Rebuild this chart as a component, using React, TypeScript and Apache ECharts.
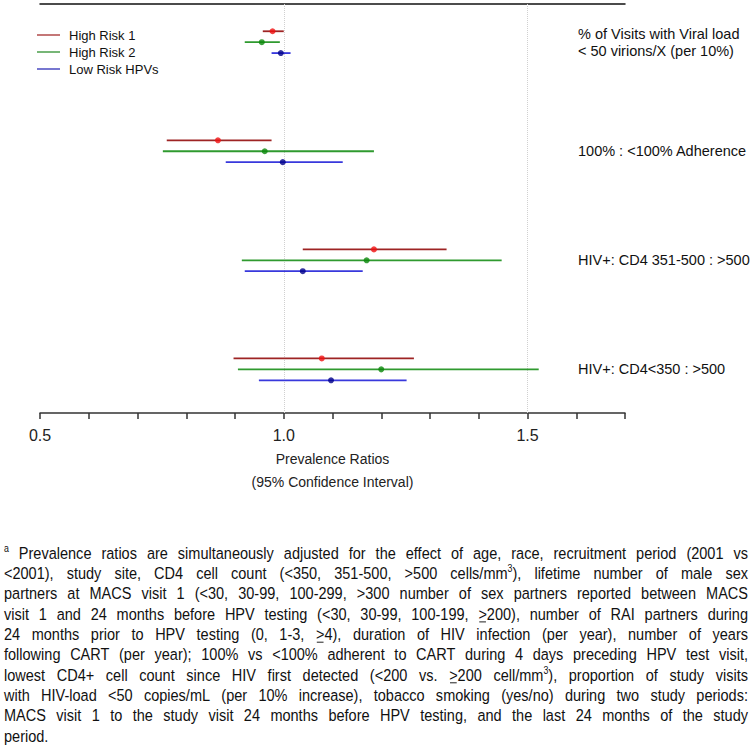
import React, { useEffect, useRef } from "react";
import * as echarts from "echarts";

// ---------- data ----------
const groupLabels = [
  "% of Visits with Viral load\n< 50 virions/X (per 10%)",
  "100% : <100% Adherence",
  "HIV+: CD4 351-500 : >500",
  "HIV+: CD4<350 : >500",
];
const seriesNames = ["High Risk 1", "High Risk 2", "Low Risk HPVs"];
const hr1Est = [0.977, 0.865, 1.185, 1.078];
const hr1Lo = [0.957, 0.76, 1.039, 0.897];
const hr1Hi = [1.0, 0.975, 1.334, 1.267];
const hr2Est = [0.955, 0.961, 1.17, 1.2];
const hr2Lo = [0.92, 0.752, 0.914, 0.906];
const hr2Hi = [0.992, 1.185, 1.447, 1.523];
const lrEst = [0.994, 0.998, 1.039, 1.097];
const lrLo = [0.975, 0.881, 0.92, 0.949];
const lrHi = [1.014, 1.121, 1.162, 1.252];
const xTickLabels = [0.5, 1.0, 1.5];
const refLines = [1.0, 1.5];
const axisTitle = "Prevalence Ratios\n(95% Confidence Interval)";

// ^x = superscript char, _x = underlined char
const footnoteLines = [
  "^a Prevalence ratios are simultaneously adjusted for the effect of age, race, recruitment period (2001 vs",
  "<2001), study site, CD4 cell count (<350, 351-500, >500 cells/mm^3), lifetime number of male sex",
  "partners at MACS visit 1 (<30, 30-99, 100-299, >300 number of sex partners reported between MACS",
  "visit 1 and 24 months before HPV testing (<30, 30-99, 100-199, _>200), number of RAI partners during",
  "24 months prior to HPV testing (0, 1-3, _>4), duration of HIV infection (per year), number of years",
  "following CART (per year); 100% vs <100% adherent to CART during 4 days preceding HPV test visit,",
  "lowest CD4+ cell count since HIV first detected (<200 vs. _>200 cell/mm^3), proportion of study visits",
  "with HIV-load <50 copies/mL (per 10% increase), tobacco smoking (yes/no) during two study periods:",
  "MACS visit 1 to the study visit 24 months before HPV testing, and the last 24 months of the study",
  "period.",
];

// ---------- styles ----------
const FONT = "'Liberation Sans', Arial, Helvetica, sans-serif";
const lineColors = ["#9E2424", "#2F9A2F", "#3838DC"];
const pointColors = ["#F01010", "#0A870A", "#000088"];
const legendColors = ["#B04A4A", "#4A9E4A", "#4A4AC0"];

const FN_SIZE = 16.5;
const FN_SCALE = 0.88;
const FN_LEFT = 4;
const FN_RIGHT = 748;
const FN_TOP = 553;
const FN_STEP = 20.3;

function parseSegments(word: string) {
  const segs: { t: string; k: "n" | "sup" | "u" }[] = [];
  let buf = "";
  for (let i = 0; i < word.length; i++) {
    const c = word[i];
    if ((c === "^" || c === "_") && i + 1 < word.length) {
      if (buf) segs.push({ t: buf, k: "n" });
      buf = "";
      segs.push({ t: word[i + 1], k: c === "^" ? "sup" : "u" });
      i++;
    } else buf += c;
  }
  if (buf) segs.push({ t: buf, k: "n" });
  return segs;
}

function buildFootnote(): any[] {
  const canvas = document.createElement("canvas");
  const ctx = canvas.getContext("2d")!;
  const measure = (t: string, size: number) => {
    ctx.font = `${size}px ${FONT}`;
    return ctx.measureText(t).width;
  };
  const supSize = 10;
  const spaceW = measure(" ", FN_SIZE);
  const localW = (FN_RIGHT - FN_LEFT) / FN_SCALE;
  const out: any[] = [];
  footnoteLines.forEach((line, li) => {
    const words = line.split(" ").map((w) => {
      const segs = parseSegments(w).map((s) => ({
        ...s,
        w: measure(s.t, s.k === "sup" ? supSize : FN_SIZE),
      }));
      return { segs, w: segs.reduce((a, s) => a + s.w, 0) };
    });
    const total = words.reduce((a, w) => a + w.w, 0);
    const last = li === footnoteLines.length - 1;
    let gap = last || words.length < 2 ? spaceW : (localW - total) / (words.length - 1);
    if (gap < spaceW * 0.5) gap = spaceW * 0.5;
    const children: any[] = [];
    let x = 0;
    words.forEach((w) => {
      let sx = x;
      w.segs.forEach((s) => {
        const isSup = s.k === "sup";
        children.push({
          type: "text",
          x: sx,
          y: isSup ? -5 : 0,
          style: {
            text: s.t,
            fontSize: isSup ? supSize : FN_SIZE,
            fontFamily: FONT,
            fill: "#111",
            verticalAlign: "middle",
            align: "left",
          },
        });
        if (s.k === "u") {
          children.push({
            type: "line",
            shape: { x1: sx + 1, y1: 8, x2: sx + s.w - 1, y2: 8 },
            style: { stroke: "#111", lineWidth: 1 },
          });
        }
        sx += s.w;
      });
      x += w.w + gap;
    });
    out.push({
      type: "group",
      x: FN_LEFT,
      y: FN_TOP + li * FN_STEP,
      scaleX: FN_SCALE,
      children,
    });
  });
  return out;
}

export default function App() {
  const ref = useRef<HTMLDivElement>(null);
  useEffect(() => {
    document.body.style.margin = "0";
    const chart = echarts.init(ref.current!, undefined, { renderer: "svg" });
    const est = [hr1Est, hr2Est, lrEst];
    const lo = [hr1Lo, hr2Lo, lrLo];
    const hi = [hr1Hi, hr2Hi, lrHi];
    const rowPos = (g: number, s: number) => g + s * 0.1;

    const series: any[] = [];
    seriesNames.forEach((name, s) => {
      series.push({
        type: "custom",
        name,
        data: groupLabels.map((_, g) => [lo[s][g], hi[s][g], rowPos(g, s)]),
        encode: { x: [0, 1], y: 2 },
        renderItem: (params: any, api: any) => {
          const y = api.value(2);
          const p1 = api.coord([api.value(0), y]);
          const p2 = api.coord([api.value(1), y]);
          return {
            type: "line",
            shape: { x1: p1[0], y1: p1[1], x2: p2[0], y2: p2[1] },
            style: { stroke: lineColors[s], lineWidth: 1.8 },
          };
        },
        z: 2,
      });
      series.push({
        type: "scatter",
        name,
        data: groupLabels.map((_, g) => [est[s][g], rowPos(g, s)]),
        symbol: "circle",
        symbolSize: 6,
        itemStyle: { color: pointColors[s] },
        z: 3,
        ...(s === 0
          ? {
              markLine: {
                silent: true,
                symbol: ["none", "none"],
                label: { show: false },
                lineStyle: { type: "dotted", color: "#d0d0d0", width: 1 },
                data: refLines.map((v) => ({ xAxis: v })),
                z: 1,
              },
            }
          : {}),
      });
    });

    chart.setOption({
      animation: false,
      textStyle: { fontFamily: FONT },
      grid: { left: 40, right: 128, top: 4, height: 409 },
      legend: {
        orient: "vertical",
        left: 32,
        top: 23,
        itemWidth: 23,
        itemHeight: 1.5,
        itemGap: 3,
        icon: "rect",
        selectedMode: false,
        textStyle: { fontSize: 13, color: "#111", lineHeight: 14, padding: [0, 0, 0, 4] },
        data: seriesNames.map((n, i) => ({ name: n, itemStyle: { color: legendColors[i] } })),
      },
      xAxis: [
        {
          type: "value",
          min: 0.5,
          max: 1.7,
          interval: 0.1,
          position: "bottom",
          axisLine: { show: true, onZero: false, lineStyle: { color: "#333", width: 1.5 } },
          axisTick: { show: true, inside: false, length: 6, lineStyle: { color: "#333", width: 1.5 } },
          axisLabel: {
            fontSize: 16,
            color: "#222",
            margin: 14,
            formatter: (v: number) =>
              xTickLabels.some((t) => Math.abs(t - v) < 1e-6) ? v.toFixed(1) : "",
          },
          splitLine: { show: false },
          name: axisTitle,
          nameLocation: "middle",
          nameGap: 29,
          nameTextStyle: { fontSize: 14, lineHeight: 23, color: "#222" },
        },
        {
          type: "value",
          min: 0.5,
          max: 1.7,
          position: "top",
          axisLine: { show: true, onZero: false, lineStyle: { color: "#111", width: 1.5 } },
          axisTick: { show: false },
          axisLabel: { show: false },
          splitLine: { show: false },
        },
      ],
      yAxis: { type: "value", inverse: true, min: -0.25, max: 3.5, show: false },
      series,
    });

    const labelGraphics = groupLabels.map((t, g) => {
      const y = chart.convertToPixel({ yAxisIndex: 0 } as any, rowPos(g, 1)) as number;
      return {
        type: "text",
        x: 578,
        y: y,
        style: {
          text: t,
          fontSize: 14.5,
          fontFamily: FONT,
          fill: "#111",
          lineHeight: 17,
          verticalAlign: "middle",
          align: "left",
        },
      };
    });

    chart.setOption({ graphic: [...labelGraphics, ...buildFootnote()] });

    return () => chart.dispose();
  }, []);
  return <div ref={ref} style={{ width: 753, height: 755 }} />;
}
